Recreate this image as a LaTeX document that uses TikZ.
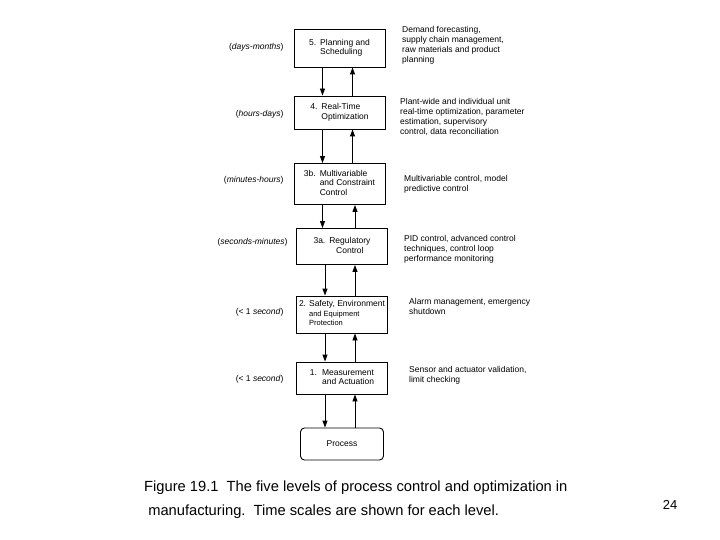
\documentclass[tikz,border=0pt]{standalone}
\usepackage{fontspec}
\setmainfont{Liberation Sans}
\usetikzlibrary{arrows.meta}
\begin{document}
\begin{tikzpicture}[x=1pt,y=-1pt,
  lvl/.style={draw,line width=0.9pt,minimum width=91pt,font=\fontsize{8.5}{9.5}\selectfont,inner sep=1pt},
  proc/.style={draw,line width=0.9pt,rounded corners=4pt,minimum width=83pt,minimum height=32pt,font=\fontsize{8.5}{9.5}\selectfont},
  tscale/.style={anchor=east,font=\fontsize{8.5}{9.5}\selectfont},
  desc/.style={anchor=north west,align=left,font=\fontsize{8.5}{10}\selectfont,inner sep=0pt},
  captext/.style={anchor=north west,align=left,font=\fontsize{14.7}{24}\selectfont,inner sep=0pt},
  dn/.style={-{Triangle[length=7pt,width=5pt]},line width=0.9pt},
  up/.style={-{Triangle[length=7pt,width=5pt]},line width=0.9pt}]
\useasboundingbox (0,0) rectangle (720,540);
% boxes
\node[lvl,minimum height=38pt] (b5) at (339.5,48) {\begin{tabular}{@{}l@{\hspace{4pt}}l@{}}5.&Planning and\\&Scheduling\end{tabular}};
\node[lvl,minimum height=33pt] (b4) at (339.5,112.5) {\begin{tabular}{@{}l@{\hspace{4pt}}l@{}}4.&Real-Time\\&Optimization\end{tabular}};
\node[lvl,minimum height=41pt] (b3b) at (339.5,184) {\begin{tabular}{@{}l@{\hspace{4pt}}l@{}}3b.&Multivariable\\&and Constraint\\&Control\end{tabular}};
\node[lvl,minimum height=36pt] (b3a) at (342,246.5) {\begin{tabular}{@{}l@{\hspace{4pt}}c@{}}3a.&Regulatory\\&Control\end{tabular}};
\node[lvl,minimum height=37pt] (b2) at (342,314.5) {\begin{tabular}{@{}l@{\hspace{3pt}}l@{}}2.&Safety, Environment\\&\fontsize{7.5}{8.5}\selectfont and Equipment\\&\fontsize{7.5}{8.5}\selectfont Protection\end{tabular}};
\node[lvl,minimum height=32pt] (b1) at (342,378) {\begin{tabular}{@{}l@{\hspace{5pt}}l@{}}1.&Measurement\\&and Actuation\end{tabular}};
\node[proc] (p) at (342,444) {Process};
% arrows
\foreach \a/\b in {b5/b4,b4/b3b,b3b/b3a,b3a/b2,b2/b1,b1/p}{
  \draw[dn] ([xshift=-17pt]\a.south) -- ([xshift=-17pt]\a.south |- \b.north);
  \draw[up] ([xshift=13pt]\b.north) -- ([xshift=13pt]\b.north |- \a.south);
}
% time scales
\node[tscale] (t5) at (287,47) {(\textit{days-months})};
\node[tscale] (t4) at (287,114) {(\textit{hours-days})};
\node[tscale] (t3b) at (287,180) {(\textit{minutes-hours})};
\node[tscale] (t3a) at (291,242) {(\textit{seconds-minutes})};
\node[tscale] (t2) at (287,312) {(< 1 \textit{second})};
\node[tscale] (t1) at (287,379) {(< 1 \textit{second})};
% descriptions
\node[desc] (d5) at (402,26) {Demand forecasting,\\supply chain management,\\raw materials and product\\planning};
\node[desc] (d4) at (400,98) {Plant-wide and individual unit\\real-time optimization, parameter\\estimation, supervisory\\control, data reconciliation};
\node[desc] (d3b) at (404,175) {Multivariable control, model\\predictive control};
\node[desc] (d3a) at (404,235) {PID control, advanced control\\techniques, control loop\\performance monitoring};
\node[desc] (d2) at (409,298) {Alarm management, emergency\\shutdown};
\node[desc] (d1) at (409,366) {Sensor and actuator validation,\\limit checking};
% caption
\node[captext] (c) at (144,481) {Figure 19.1\ \ The five levels of process control and optimization in\\\ manufacturing.\ \ Time scales are shown for each level.};
\node[font=\fontsize{13}{15}\selectfont] (pg) at (670,505) {24};
\end{tikzpicture}
\end{document}
